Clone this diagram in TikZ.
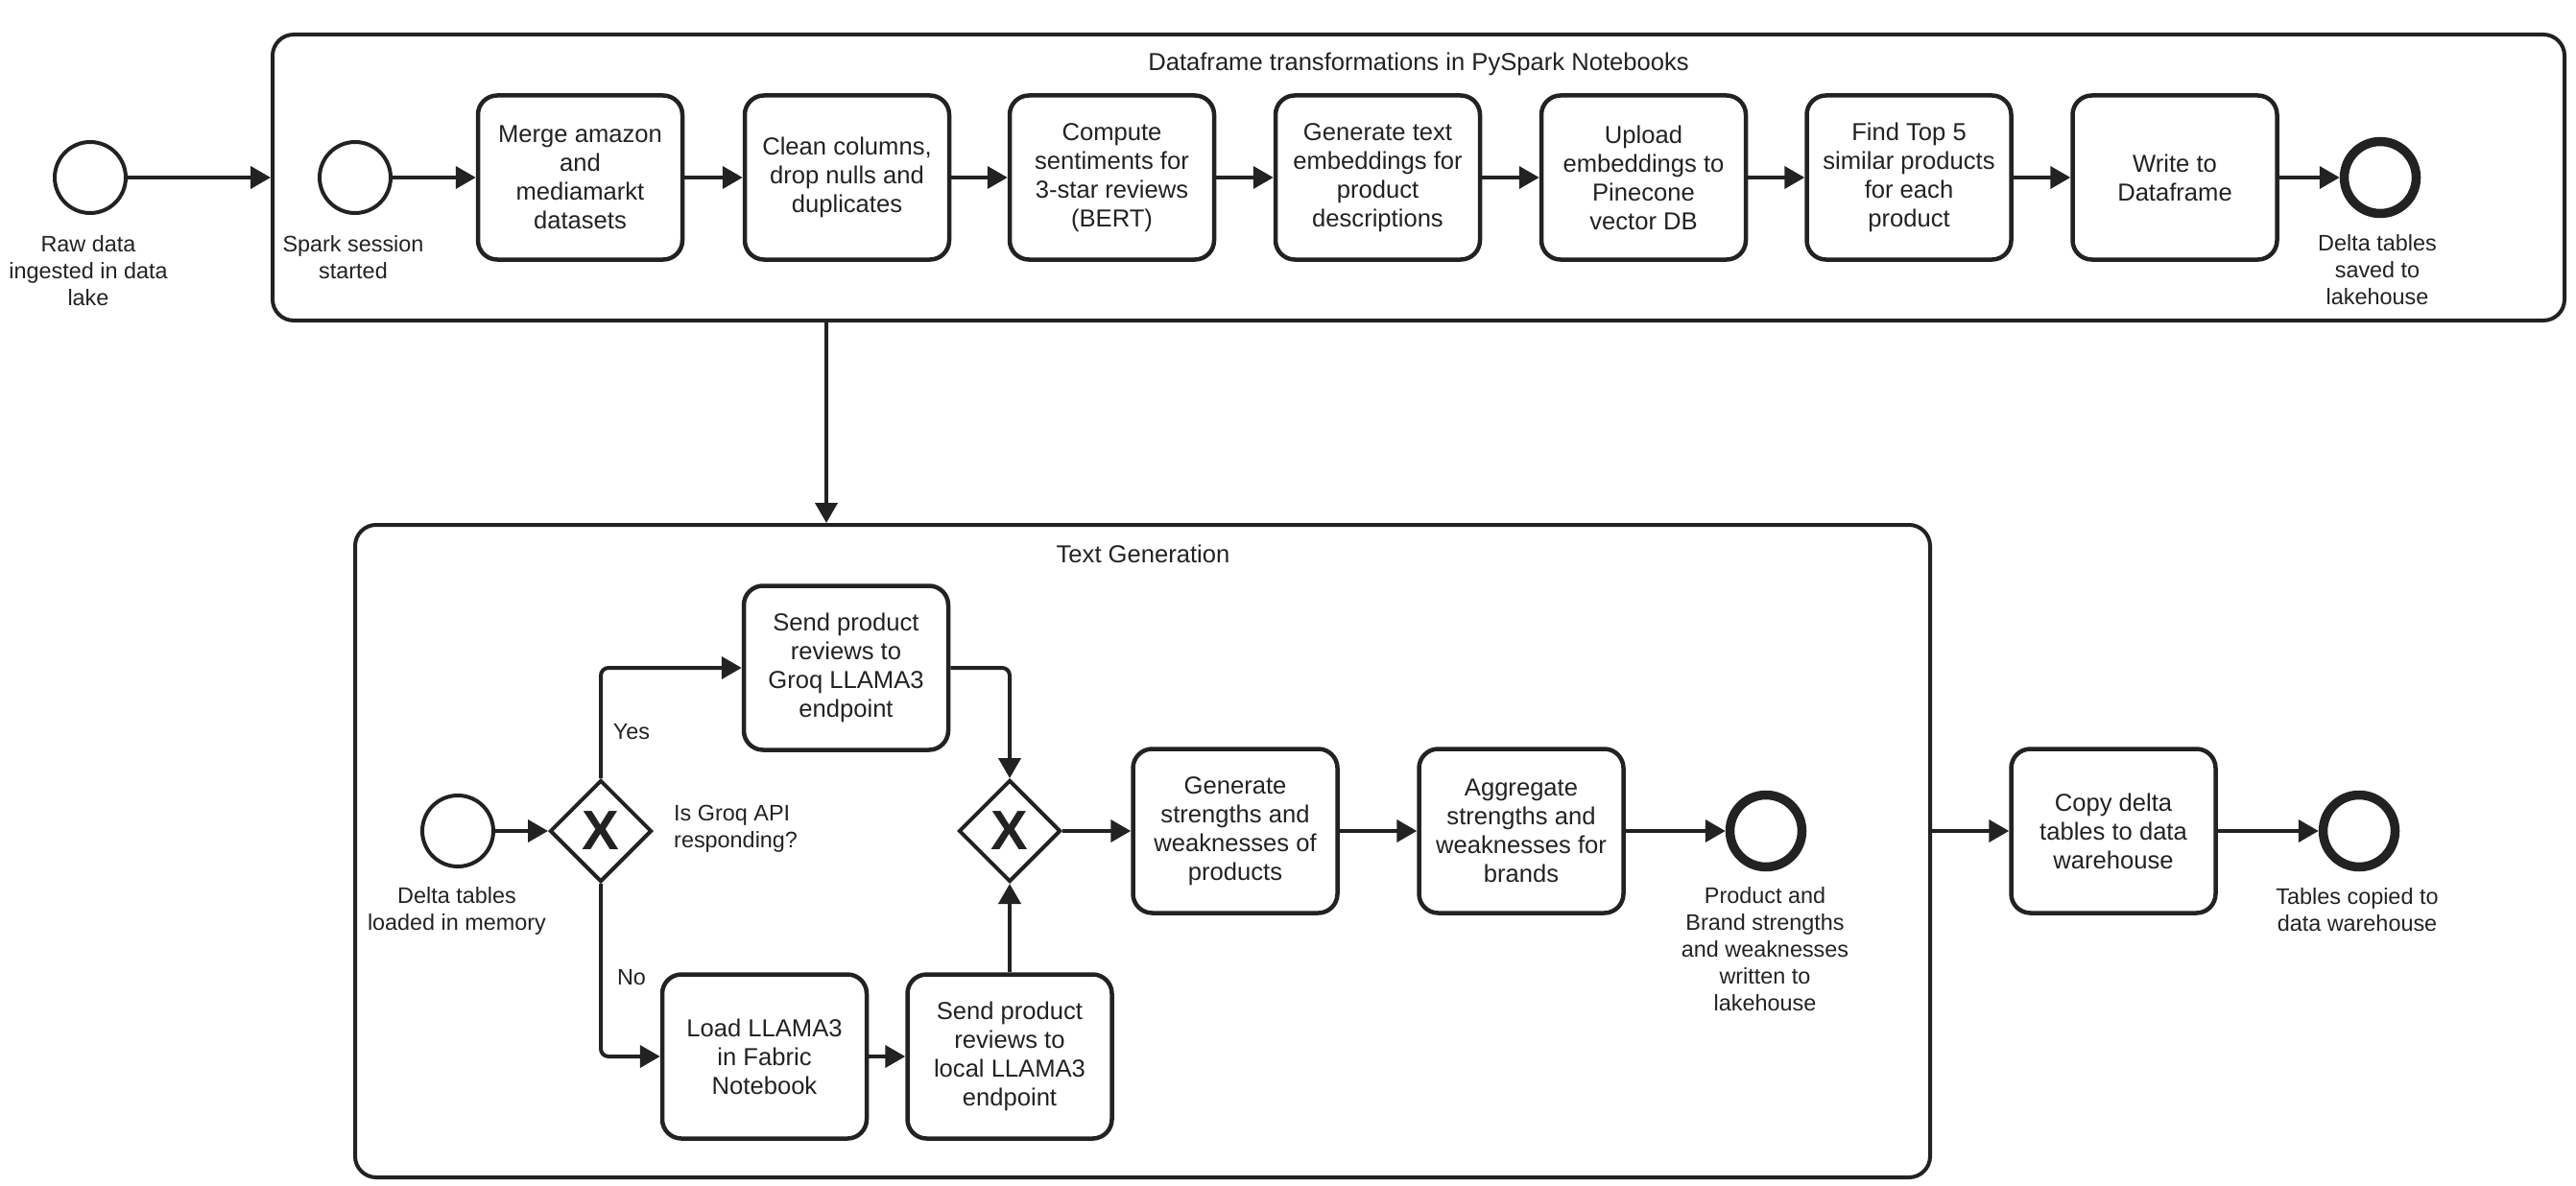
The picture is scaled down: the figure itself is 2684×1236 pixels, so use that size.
\documentclass[tikz,border=0pt]{standalone}
\usepackage{fontspec}
\setmainfont{Liberation Sans}
\usetikzlibrary{arrows.meta,shapes.geometric}
\definecolor{ink}{HTML}{222222}
\newcommand\bxf{\fontsize{25.6}{30}\selectfont}
\newcommand\lbf{\fontsize{23.4}{28.2}\selectfont}
\newcommand\gwf{\fontsize{58}{58}\selectfont\bfseries}
\begin{document}
\begin{tikzpicture}[x=1pt,y=-1pt,
  every node/.style={text=ink},
  container/.style={draw=ink, line width=4pt, rounded corners=22pt, inner sep=0pt},
  task/.style={draw=ink, line width=4.5pt, rounded corners=20pt, minimum width=213pt, minimum height=171pt, align=center, inner sep=0pt, font=\bxf},
  startev/.style={draw=ink, circle, line width=4pt, minimum size=74pt, inner sep=0pt},
  endev/.style={draw=ink, circle, line width=9.5pt, minimum size=75pt, inner sep=0pt},
  gateway/.style={draw=ink, diamond, line width=4pt, minimum width=106pt, minimum height=106pt, inner sep=0pt, font=\gwf},
  evlabel/.style={anchor=north, align=center, inner sep=0pt, font=\lbf},
  txt/.style={inner sep=0pt, font=\lbf},
  arr/.style={draw=ink, line width=4pt, -{Triangle[length=21pt,width=23pt]}},
]
\useasboundingbox (0,0) rectangle (2684,1236);

% containers
\node[container, minimum width=2388pt, minimum height=298pt] (top) at (1478,185) {};
\node[inner sep=0pt, font=\bxf] (toptitle) at (1478,67) {Dataframe transformations in PySpark Notebooks};
\node[container, minimum width=1641pt, minimum height=680pt] (tg) at (1190.5,887) {};
\node[inner sep=0pt, font=\bxf] (tgtitle) at (1191,577) {Text Generation};

% top row
\node[startev] (raw) at (94,185) {};
\node[evlabel] (rawl) at (92,245) {Raw data\\ingested in data\\lake};
\node[startev] (spark) at (370,185) {};
\node[evlabel] (sparkl) at (368,245) {Spark session\\started};
\node[task] (merge) at (604.5,185) {Merge amazon\\and\\mediamarkt\\datasets};
\node[task] (clean) at (882.5,185) {Clean columns,\\drop nulls and\\duplicates};
\node[task] (comp) at (1158.5,185) {Compute\\sentiments for\\3-star reviews\\(BERT)};
\node[task] (emb) at (1435.5,185) {Generate text\\embeddings for\\product\\descriptions};
\node[task] (upl) at (1712.5,185) {Upload\\embeddings to\\Pinecone\\vector DB};
\node[task] (find) at (1989,185) {Find Top 5\\similar products\\for each\\product};
\node[task] (write) at (2266,185) {Write to\\Dataframe};
\node[endev] (end1) at (2480,185) {};
\node[evlabel] (end1l) at (2477,244) {Delta tables\\saved to\\lakehouse};

\draw[arr] (raw) -- (top.west);
\draw[arr] (spark) -- (merge);
\draw[arr] (merge) -- (clean);
\draw[arr] (clean) -- (comp);
\draw[arr] (comp) -- (emb);
\draw[arr] (emb) -- (upl);
\draw[arr] (upl) -- (find);
\draw[arr] (find) -- (write);
\draw[arr] (write) -- (end1);

\coordinate (dn) at (861,334);
\draw[arr] (dn) -- (dn |- tg.north);

% text generation
\node[startev] (dstart) at (477,866) {};
\node[evlabel] (dstartl) at (476,924) {Delta tables\\loaded in memory};
\node[gateway] (gw1) at (626,866) {X};
\node[txt, anchor=west, align=left] (q) at (702,864) {Is Groq API\\responding?};
\node[task] (groq) at (881.5,696) {Send product\\reviews to\\Groq LLAMA3\\endpoint};
\node[gateway] (gw2) at (1052,866) {X};
\node[task] (load) at (796.5,1101) {Load LLAMA3\\in Fabric\\Notebook};
\node[task] (local) at (1052,1101) {Send product\\reviews to\\local LLAMA3\\endpoint};
\node[task] (sw) at (1287,866) {Generate\\strengths and\\weaknesses of\\products};
\node[task] (agg) at (1585,866) {Aggregate\\strengths and\\weaknesses for\\brands};
\node[endev] (end2) at (1840,866) {};
\node[evlabel] (end2l) at (1839,924) {Product and\\Brand strengths\\and weaknesses\\written to\\lakehouse};
\node[txt] (yes) at (658,763) {Yes};
\node[txt] (no) at (658,1019) {No};

\draw[arr] (dstart) -- (gw1);
\draw[arr, rounded corners=8pt] (gw1.north) |- (groq.west);
\draw[arr, rounded corners=8pt] (groq.east) -| (gw2.north);
\draw[arr, rounded corners=8pt] (gw1.south) |- (load.west);
\draw[arr] (load) -- (local);
\draw[arr] (local.north) -- (gw2.south);
\draw[arr] (gw2) -- (sw);
\draw[arr] (sw) -- (agg);
\draw[arr] (agg) -- (end2);

% outside
\node[task] (copy) at (2202,866) {Copy delta\\tables to data\\warehouse};
\node[endev] (end3) at (2458,866) {};
\node[evlabel] (end3l) at (2456,925) {Tables copied to\\data warehouse};
\draw[arr] (tg.east |- copy) -- (copy);
\draw[arr] (copy) -- (end3);
\end{tikzpicture}
\end{document}
